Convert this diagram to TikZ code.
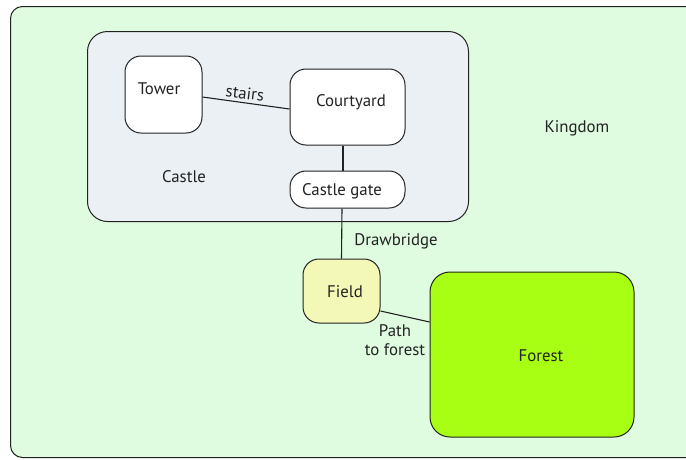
\documentclass[tikz,border=0pt]{standalone}
\usepackage{fontspec}
\setmainfont{PT Sans}
\definecolor{kingdomgreen}{HTML}{DFFCE1}
\definecolor{castlegrey}{HTML}{EBF0F4}
\definecolor{fieldyellow}{HTML}{F4F8B6}
\definecolor{forestgreen}{HTML}{A8FF14}
\definecolor{ink}{HTML}{222222}
\begin{document}
\begin{tikzpicture}[x=1pt,y=-1pt,
  font=\fontsize{16.8}{19}\selectfont, text=ink,
  region/.style={draw=ink, line width=1pt, inner sep=0pt, rounded corners=16pt},
  room/.style={region, fill=white},
  link/.style={draw=ink, line width=1.1pt},
  lbl/.style={inner sep=0pt}]
\useasboundingbox (0,0) rectangle (686,459);
\clip (0,0) rectangle (686,459);
\node[region, fill=kingdomgreen, rounded corners=12pt, minimum width=700, minimum height=451, anchor=north west] (kingdom) at (10,6) {};
\node[lbl] (kingdomtext) at (577,128) {Kingdom};
\node[region, fill=castlegrey, rounded corners=20pt, minimum width=381, minimum height=190, anchor=north west] (castle) at (87,31) {};
\node[lbl] (castletext) at (184,177) {Castle};
\node[room, minimum width=77, minimum height=77, label={[lbl, xshift=-4.5pt, yshift=5.5pt]center:Tower}] (tower) at (163.5,94.5) {};
\node[room, minimum width=115, minimum height=76, label={[lbl, xshift=3.5pt, yshift=5pt]center:Courtyard}] (courtyard) at (347.5,107) {};
\node[room, minimum width=115, minimum height=37, label={[lbl, xshift=-5.5pt, yshift=-1.5pt]center:Castle gate}] (gate) at (347.5,189.5) {};
\node[room, fill=fieldyellow, minimum width=77, minimum height=64, label={[lbl, xshift=3.5pt, yshift=-1pt]center:Field}] (field) at (341.5,291) {};
\node[room, fill=forestgreen, rounded corners=20pt, minimum width=204, minimum height=165, label={[lbl, xshift=9pt, yshift=-1.5pt]center:Forest}] (forest) at (532,354.5) {};
\draw[link] ([yshift=-2.5pt]tower.east) -- ([yshift=-2pt]courtyard.west);
\node[lbl, rotate=-7] (stairs) at (245,93) {stairs};
\draw[link] ([xshift=-4.5pt]courtyard.south) -- ([xshift=-4.5pt]gate.north);
\draw[link] ([xshift=-5.5pt]gate.south) -- (field.north);
\node[lbl] (drawbridge) at (396,241) {Drawbridge};
\draw[link] ([yshift=-20pt]field.east) -- ([yshift=32.5pt]forest.west);
\node[lbl, align=center] (pathtext) at (395,340) {Path\\to forest};
\end{tikzpicture}
\end{document}
